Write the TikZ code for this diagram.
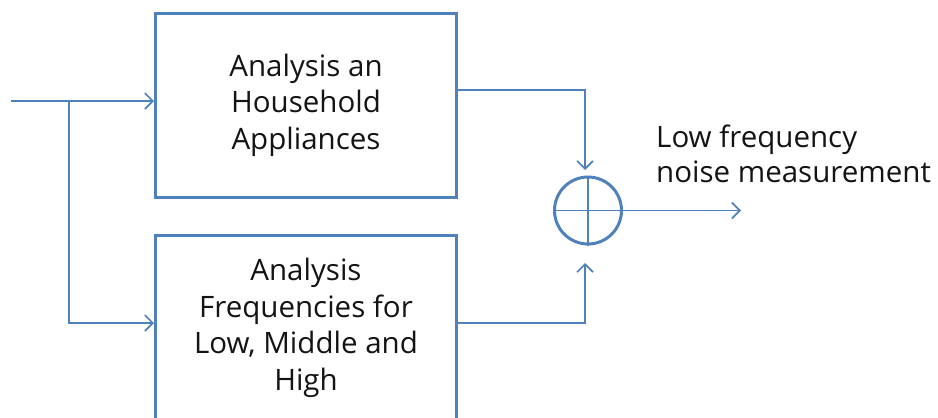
\documentclass[tikz,border=0pt]{standalone}
\usepackage{fontspec}
\setmainfont{Open Sans}
\usetikzlibrary{arrows.meta}
\definecolor{lineblue}{RGB}{79,129,189}
\definecolor{txt}{RGB}{20,20,20}
\tikzset{
  blockbox/.style={draw=lineblue, line width=3pt, minimum width=301pt, minimum height=184pt,
    align=center, text=txt, font=\fontsize{29.5}{36.5}\selectfont, inner sep=0pt},
  wire/.style={draw=lineblue, line width=1.6pt},
  arr/.style={wire, -{Straight Barb[length=8pt,width=16pt,line width=1.6pt]}},
  sumnode/.style={circle, draw=lineblue, line width=3pt, minimum size=67pt, inner sep=0pt},
  lbl/.style={align=left, text=txt, font=\fontsize{29.5}{35}\selectfont, inner sep=0pt, anchor=west}
}
\begin{document}
\begin{tikzpicture}[x=1pt,y=-1pt]
\clip (0,0) rectangle (938,418);
\fill[white] (0,0) rectangle (938,418);
\node[blockbox] (top) at (306,105) {Analysis an\\Household\\Appliances};
\node[blockbox, minimum height=186pt] (bot) at (306,328) {Analysis\\Frequencies for\\Low, Middle and\\High};
\node[sumnode] (sum) at (588,210.5) {};
\draw[wire] (sum.north) -- (sum.south);
\draw[wire] (sum.west) -- (sum.east);
\coordinate (in) at (11,101);
\coordinate (split) at (69,101);
\coordinate (out) at (741,210.5);
\node[lbl] (label) at (656,154) {Low frequency\\noise measurement};
\draw[arr] (in) -- (top.west |- in);
\draw[arr] (split) |- (bot.west |- 0,323);
\draw[arr] (top.east |- 0,90) -| (585,170);
\draw[arr] (bot.east |- 0,323) -| (585,263);
\draw[arr] (sum.east) -- (out);
\end{tikzpicture}
\end{document}
